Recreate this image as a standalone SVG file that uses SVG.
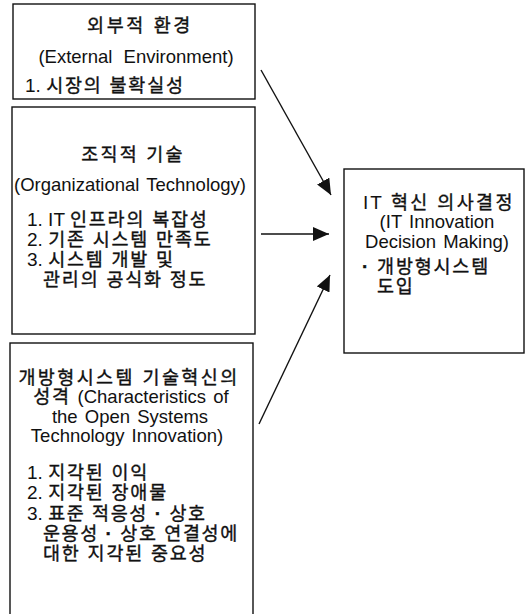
<svg xmlns="http://www.w3.org/2000/svg" width="526" height="614" viewBox="0 0 526 614">
<style>
.box{fill:#fff;stroke:#111;stroke-width:1.4}
text{font-family:"Liberation Sans","Noto Sans CJK KR",sans-serif;font-size:19px;fill:#111}
.k{font-size:18.5px;letter-spacing:1.8px;stroke:#111;stroke-width:0.35}
.n{stroke:none;font-size:19px;letter-spacing:0}
.e{font-size:18.5px;word-spacing:2px}
.c{text-anchor:middle}
.d{font-size:19px;font-weight:bold}
.conn line{stroke:#111;stroke-width:1.4}
</style>
<defs>
<marker id="ah" viewBox="0 0 16 14" refX="16" refY="7" markerWidth="16" markerHeight="14" markerUnits="userSpaceOnUse" orient="auto">
<path d="M0,0 L16,7 L0,14 Z" fill="#111"/>
</marker>
</defs>
<rect width="526" height="614" fill="#fff"/>
<g id="external">
<rect class="box" x="13" y="4" width="242" height="95"/>
<text class="k c" x="140" y="32" style="letter-spacing:2.6px">외부적 환경</text>
<text class="e c" x="136" y="63" style="word-spacing:6px">(External Environment)</text>
<text class="k" x="25" y="92"><tspan class="n">1. </tspan>시장의 불확실성</text>
</g>
<g id="organizational">
<rect class="box" x="12" y="107" width="243" height="227"/>
<text class="k c" x="133" y="161" style="letter-spacing:2.2px">조직적 기술</text>
<text class="e c" x="130" y="191">(Organizational Technology)</text>
<text class="k" x="27" y="226"><tspan class="n">1. IT </tspan>인프라의 복잡성</text>
<text class="k" x="27" y="246"><tspan class="n">2. </tspan>기존 시스템 만족도</text>
<text class="k" x="27" y="266"><tspan class="n">3. </tspan>시스템 개발 및</text>
<text class="k" x="43" y="286">관리의 공식화 정도</text>
</g>
<g id="characteristics">
<rect class="box" x="10" y="343" width="243" height="290"/>
<text class="k c" x="129" y="384" style="letter-spacing:2.4px">개방형시스템 기술혁신의</text>
<text class="e c" x="131" y="403"><tspan class="k" style="letter-spacing:1.5px">성격</tspan> (Characteristics of</text>
<text class="e c" x="130" y="423">the Open Systems</text>
<text class="e c" x="127" y="442">Technology Innovation)</text>
<text class="k" x="27" y="479"><tspan class="n">1. </tspan>지각된 이익</text>
<text class="k" x="27" y="499"><tspan class="n">2. </tspan>지각된 장애물</text>
<text class="k" x="27" y="520" style="letter-spacing:1.6px"><tspan class="n">3. </tspan>표준 적응성 <tspan class="d">·</tspan> 상호</text>
<text class="k" x="43" y="540" style="letter-spacing:1.6px">운용성 <tspan class="d">·</tspan> 상호 연결성에</text>
<text class="k" x="43" y="560">대한 지각된 중요성</text>
</g>
<g id="decision">
<rect class="box" x="344" y="169" width="180" height="184"/>
<text class="k c" x="439" y="209" style="letter-spacing:2.4px"><tspan class="n" style="letter-spacing:2px">IT </tspan>혁신 의사결정</text>
<text class="e c" x="437" y="228">(IT Innovation</text>
<text class="e c" x="437" y="248">Decision Making)</text>
<text class="k" x="362" y="273"><tspan class="d">·</tspan> 개방형시스템</text>
<text class="k" x="377" y="293">도입</text>
</g>
<g class="conn" id="connectors">
<line x1="261" y1="70" x2="331" y2="195" marker-end="url(#ah)"/>
<line x1="261" y1="234" x2="329" y2="234" marker-end="url(#ah)"/>
<line x1="259" y1="424" x2="330" y2="275" marker-end="url(#ah)"/>
</g>
</svg>
